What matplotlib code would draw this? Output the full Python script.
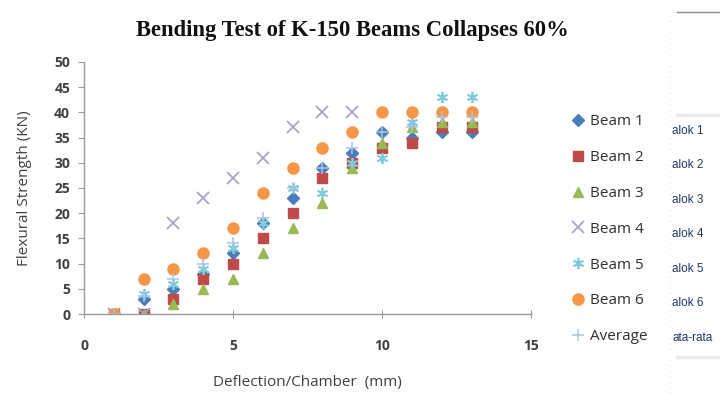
import numpy as np
import matplotlib
matplotlib.use("Agg")
import matplotlib.pyplot as plt
from matplotlib.lines import Line2D

# deflection steps (mm)
deflection = [1, 2, 3, 4, 5, 6, 7, 8, 9, 10, 11, 12, 13]

# flexural strength (KN)
beam1 = [0, 3, 5, 8, 12, 18, 23, 29, 32, 36, 35, 36, 36]
beam2 = [0, 0, 3, 7, 10, 15, 20, 27, 30, 33, 34, 37, 37]
beam3 = [0, 0, 2, 5, 7, 12, 17, 22, 29, 34, 37, 38, 38]
beam4 = [0, 0, 18, 23, 27, 31, 37, 40, 40, np.nan, np.nan, np.nan, np.nan]
beam5 = [0, 4, 6, 9, 13, 18, 25, 24, 30, 31, 38, 43, 43]
beam6 = [0, 7, 9, 12, 17, 24, 29, 33, 36, 40, 40, 40, 40]
average = [0, 3.5, 7, 10, 14, 19, 25, 29, 33, 36, 37, 39, 39]

labels = ["Beam 1", "Beam 2", "Beam 3", "Beam 4", "Beam 5", "Beam 6", "Average"]
ghost_labels = ["alok 1", "alok 2", "alok 3", "alok 4", "alok 5", "alok 6", "ata-rata"]

x_ticks = [0, 5, 10, 15]
y_ticks = [0, 5, 10, 15, 20, 25, 30, 35, 40, 45, 50]

fig = plt.figure(figsize=(7.2, 3.94), dpi=100)
ax = fig.add_axes([0.1167, 0.203, 0.621, 0.64])

ax.plot(deflection, beam1, ls="none", marker="D", ms=6.5, color="#4A7EBB", label=labels[0])
ax.plot(deflection, beam2, ls="none", marker="s", ms=7.5, color="#BE4B48", label=labels[1])
ax.plot(deflection, beam3, ls="none", marker="^", ms=7.5, color="#98B954", label=labels[2])
ax.plot(deflection, beam4, ls="none", marker="x", ms=8, mew=1.3, color="#A9A3CB", label=labels[3])
ax.plot(deflection, beam5, ls="none", marker=(6, 2, 0), ms=8, mew=1.3, color="#7FCBDD", label=labels[4])
ax.plot(deflection, beam6, ls="none", marker="o", ms=8, color="#F79646", label=labels[5])
ax.plot(deflection, average, ls="none", marker="+", ms=9, mew=1.1, color="#A9C3E2", label=labels[6])

ax.set_xlim(0, 15)
ax.set_ylim(0, 50)
ax.set_xticks(x_ticks)
ax.set_yticks(y_ticks)
for s in ["top", "right"]:
    ax.spines[s].set_visible(False)
for s in ["left", "bottom"]:
    ax.spines[s].set_color("#9A9A9A")
    ax.spines[s].set_linewidth(1.0)
ax.tick_params(axis="y", direction="out", length=4, color="#9A9A9A", pad=6,
               labelsize=10, labelcolor="#404040")
ax.tick_params(axis="x", direction="inout", length=6, color="#9A9A9A", pad=15,
               labelsize=10, labelcolor="#404040")
for t in ax.get_xticklabels() + ax.get_yticklabels():
    t.set_fontweight("bold")
    t.set_family("Open Sans")

ax.set_xlabel("Deflection/Chamber  (mm)", family="Open Sans", fontsize=11,
              color="#404040", labelpad=16)
ax.set_ylabel("Flexural Strength (KN)", family="Open Sans", fontsize=11,
              color="#404040", labelpad=16)

fig.text(0.489, 0.922, "Bending Test of K-150 Beams Collapses 60%",
         family="Liberation Serif", fontweight="bold", fontsize=16.3,
         ha="center", va="center", color="#111111")

fig.legend(loc="upper left", bbox_to_anchor=(0.783, 0.725), frameon=False,
           prop={"family": "Open Sans", "size": 11}, labelspacing=1.36,
           handletextpad=0.3, handlelength=1.0, borderaxespad=0, labelcolor="#303030")

# leftover of a second chart cut off at the right edge
fig.add_artist(Line2D([0.93, 0.93], [0.0, 0.97], color="#E6E6E6", lw=0.8, ls=(0, (1, 4))))
fig.add_artist(Line2D([0.94, 1.0], [0.97, 0.97], color="#8C8C8C", lw=1.0))
fig.add_artist(Line2D([0.94, 1.0], [0.707, 0.707], color="#EAEAEA", lw=2.5))
fig.add_artist(Line2D([0.94, 1.0], [0.094, 0.094], color="#EAEAEA", lw=2.5))
for i, g in enumerate(ghost_labels):
    fig.text(0.934, 0.668 - i * 0.0875, g, family="Liberation Sans", fontsize=8.5,
             color="#1F3864", ha="left", va="center")

fig.savefig("out.png", dpi=100)
